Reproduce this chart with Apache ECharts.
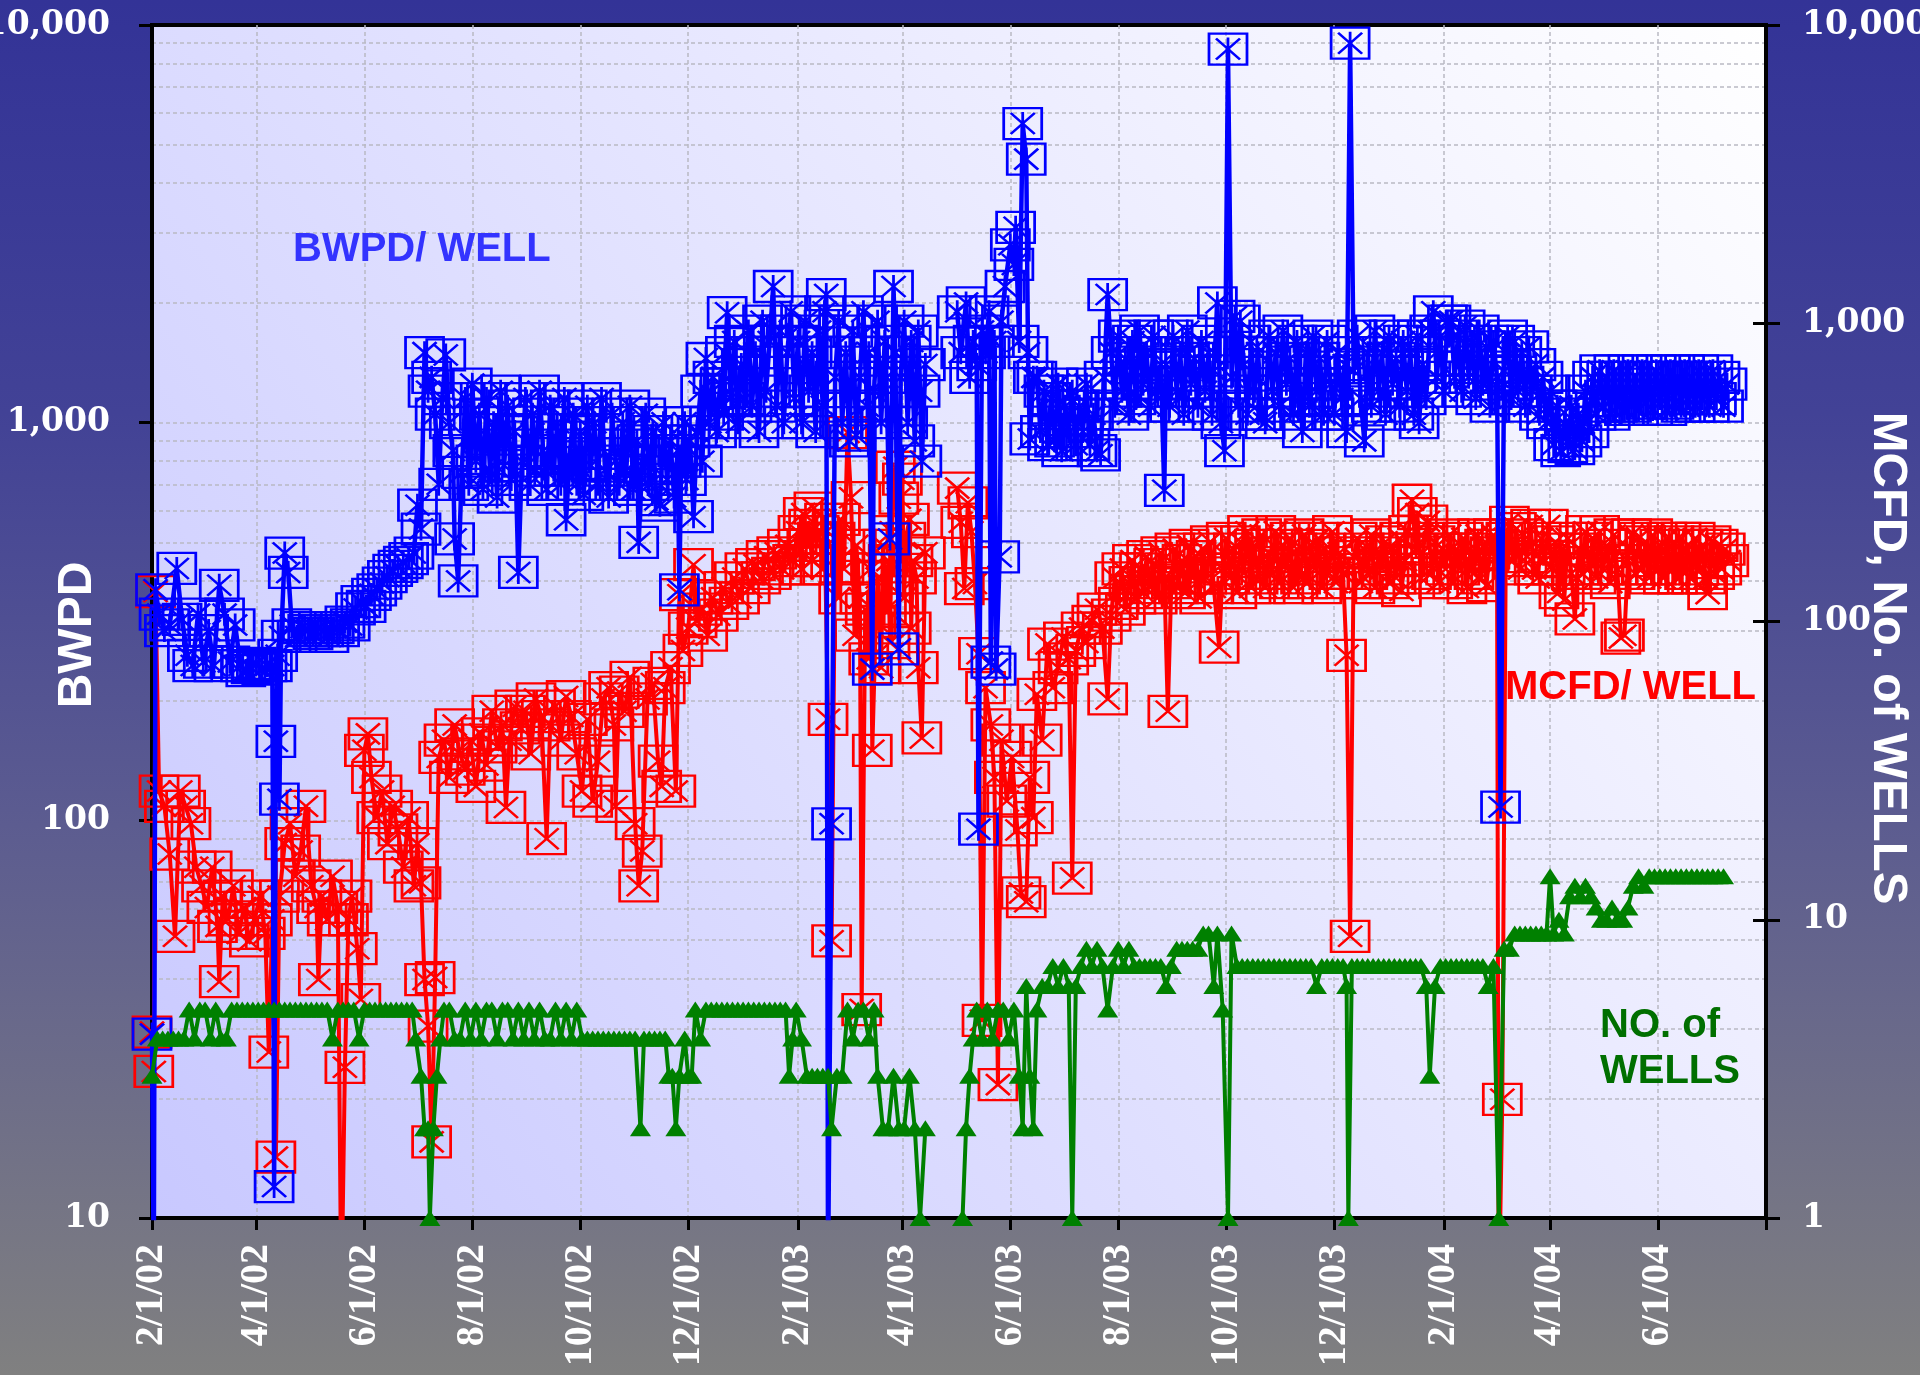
<!DOCTYPE html>
<html>
<head>
<meta charset="utf-8">
<script src="https://cdn.jsdelivr.net/npm/echarts@6/dist/echarts.min.js"></script>
<style>
  html, body { margin: 0; padding: 0; }
  #main { width: 1920px; height: 1375px; }
</style>
</head>
<body>
<div id="main"></div>
<script>
// x axis: days since 2/1/02, ticks every two months
var tickDays = [0, 59, 120, 181, 242, 303, 365, 424, 485, 546, 607, 668, 730, 790, 851, 912];
var tickLabels = ['2/1/02', '4/1/02', '6/1/02', '8/1/02', '10/1/02', '12/1/02', '2/1/03', '4/1/03',
  '6/1/03', '8/1/03', '10/1/03', '12/1/03', '2/1/04', '4/1/04', '6/1/04'];
var leftTicks = [10, 100, 1000, 10000];
var rightTicks = [1, 10, 100, 1000, 10000];
var gridVals = [20, 30, 40, 50, 60, 70, 80, 90, 100, 200, 300, 400, 500, 600, 700, 800, 900,
  1000, 2000, 3000, 4000, 5000, 6000, 7000, 8000, 9000];

// [day, BWPD per well]
var bwpd = [[0,29],[1,7],[2,380],[4,330],[7,300],[10,310],[14,430],[17,320],[20,260],[23,245],[26,330],[29,250],
  [32,300],[35,245],[38,390],[41,330],[44,250],[47,310],[50,245],[53,238],[56,242],[59,248],[62,240],[65,245],
  [68,245],[69,12],[70,158],[71,260],[72,113],[73,290],[75,470],[77,420],[79,310],[82,290],[85,305],[88,300],
  [91,295],[94,305],[97,300],[100,290],[103,305],[106,300],[109,315],[112,310],[115,340],[118,355],[121,345],
  [124,370],[127,380],[130,395],[133,410],[136,425],[139,435],[142,445],[145,455],[148,470],[150,620],[152,540],
  [154,1500],[156,1200],[158,1300],[160,1050],[162,700],[164,1150],[166,1480],[168,1000],[170,850],[171,510],
  [173,400],[175,750],[177,1150],[179,700],[181,1250],[183,800],[185,1050],[187,680],[189,1150],[191,760],
  [193,1000],[195,650],[197,1200],[199,780],[201,1100],[203,720],[205,950],[207,420],[209,800],[211,1150],
  [213,700],[215,1050],[217,760],[219,1200],[221,850],[223,680],[225,1100],[227,760],[229,1000],[231,700],
  [233,1150],[234,570],[236,820],[238,1050],[240,700],[242,950],[244,660],[246,1100],[248,780],[250,1000],
  [252,700],[254,1150],[256,760],[258,650],[260,1050],[262,800],[264,700],[266,1000],[268,760],[270,1100],
  [272,680],[274,900],[275,500],[277,800],[279,1050],[281,700],[283,950],[285,640],[287,620],[289,1000],
  [291,720],[293,900],[295,650],[297,850],[298,380],[299,800],[301,1000],[302,720],[304,900],[306,580],[308,950],
  [310,1200],[311,800],[313,1450],[315,1000],[317,1300],[319,950],[321,1250],[323,1050],[324,1500],[325,1890],
  [327,1150],[329,1600],[331,1000],[333,1400],[335,1150],[337,1700],[339,1100],[341,1500],[343,950],[345,1800],
  [347,1200],[349,1600],[351,2200],[353,1100],[355,1700],[357,1000],[359,1500],[361,1900],[363,1150],[365,1600],
  [367,1000],[369,1800],[371,1200],[373,1500],[375,950],[377,1700],[379,1100],[380,1900],[381,2100],[382,7],
  [384,98],[386,1300],[388,1800],[390,1000],[392,1500],[394,900],[396,1700],[398,930],[400,1300],[402,1900],
  [404,1100],[405,1500],[407,240],[408,1200],[410,1800],[412,1000],[414,1600],[415,1300],[417,510],[419,2200],
  [420,1500],[422,270],[423,1300],[425,1800],[427,1000],[429,1600],[431,900],[433,1700],[434,1200],[435,800],
  [437,1400],[446,null],
  [455,1900],[457,1500],[460,2000],[462,1300],[464,1600],[466,1400],[467,95],[469,1700],[471,1500],[473,1900],
  [474,250],[476,1600],[477,240],[479,460],[480,1800],[482,2200],[485,2800],[487,2500],[488,3100],[490,1600],
  [492,5650],[494,4600],[495,1500],[496,910],[498,1300],[500,1300],[502,950],[504,1200],[506,880],[508,1150],
  [510,900],[512,1250],[514,850],[516,1100],[518,950],[520,1200],[522,880],[524,1100],[526,950],[528,1250],
  [530,880],[532,1050],[534,850],[536,830],[538,1300],[540,2100],[542,1500],[544,1100],[546,1650],[548,1200],
  [550,1450],[552,1050],[554,1600],[556,1150],[558,1700],[560,1250],[562,1500],[564,1100],[566,1650],[568,1200],
  [570,1400],[572,676],[573,1400],[575,1100],[577,1650],[579,1200],[581,1500],[583,1050],[585,1700],[587,1250],
  [589,1450],[591,1100],[593,1600],[595,1200],[597,1500],[599,1050],[600,1350],[602,2000],[604,1000],[606,850],
  [608,8700],[610,1300],[612,1850],[614,1100],[615,1800],[617,1400],[619,1050],[621,1600],[623,1200],[625,1500],
  [627,1050],[629,1000],[631,1650],[633,1200],[635,1500],[637,1100],[639,1700],[641,1250],[643,1450],[645,1050],
  [647,1600],[649,1150],[650,950],[652,1500],[654,1100],[656,1650],[658,1200],[660,1450],[662,1050],[664,1600],
  [666,1250],[668,1050],[670,1500],[672,1150],[674,1400],[675,950],[677,9000],[679,1350],[681,1650],[683,1150],
  [685,900],[687,1500],[689,1100],[691,1700],[693,1200],[695,1500],[697,1050],[699,1650],[701,1250],[703,1450],
  [705,1100],[707,1600],[709,1200],[711,1500],[713,1050],[715,1650],[716,1000],[718,1400],[720,1150],[722,1700],
  [724,1900],[726,1300],[728,1650],[730,1200],[732,1800],[734,1800],[736,1300],[738,1650],[740,1200],[742,1750],
  [744,1300],[746,1600],[748,1150],[750,1700],[752,1250],[754,1550],[756,1100],[758,1600],[760,1300],[762,108],
  [764,1350],[766,1650],[768,1150],[770,1600],[772,1200],[774,1500],[776,1100],[778,1550],[780,1200],[782,1400],
  [784,1050],[786,1300],[788,1000],[790,1200],[792,880],[794,1100],[796,850],[798,1000],[800,870],[802,1100],
  [804,860],[806,1050],[808,900],[810,1200],[812,950],[814,1300],[816,1050],[818,1350],[820,1100],[822,1300],
  [824,1050],[826,1350],[828,1100],[830,1300],[832,1080],[834,1350],[836,1100],[838,1250],[840,1080],[842,1350],
  [844,1120],[846,1300],[848,1080],[850,1350],[852,1150],[854,1300],[856,1080],[858,1350],[860,1120],[862,1300],
  [864,1100],[866,1350],[868,1150],[870,1300],[872,1100],[874,1350],[876,1150],[878,1300],[880,1100],[882,1350],
  [884,1150],[886,1300],[888,1100],[890,1250]];

// [day, MCFD per well]
var mcfd = [[0,4.2],[1,3.1],[2,126],[4,27],[7,24],[10,16.6],[13,8.8],[16,27],[19,24],[22,21],[25,15],[28,13],
  [31,11],[34,15],[37,9.5],[38,6.2],[40,12],[43,10],[46,13],[49,9],[52,11],[55,8.5],[58,10],[61,12],[64,9],
  [66,3.6],[68,10],[70,1.6],[72,12],[75,18],[78,21],[81,14],[84,17],[87,24],[90,13],[93,11],[94,6.3],[96,12],
  [99,10],[102,14],[105,11],[107,0.5],[109,3.2],[111,10],[113,12],[116,8],[118,5.4],[120,37],[122,42],[124,30],
  [127,22],[130,27],[133,18],[136,24],[139,20],[142,15],[145,22],[148,13],[150,18],[152,13.3],[154,6.3],
  [156,4.4],[158,1.8],[160,6.4],[162,35],[165,40],[168,30],[171,45],[174,36],[177,32],[180,40],[183,28],[186,42],
  [189,33],[192,50],[195,38],[198,45],[200,23.8],[202,40],[205,52],[208,44],[211,50],[214,36],[217,55],[220,48],
  [223,18.7],[225,45],[228,52],[231,40],[234,56],[237,48],[240,36],[243,27],[246,47],[249,25],[252,34],[255,55],
  [258,60],[261,45],[262,24],[264,58],[267,50],[270,65],[273,21],[275,13],[277,17],[280,55],[283,62],[286,34],
  [288,28],[290,60],[293,70],[296,27],[298,123],[300,80],[303,95],[306,155],[308,100],[311,110],[314,90],
  [317,120],[320,105],[323,130],[326,115],[329,140],[332,120],[335,150],[338,130],[341,155],[344,140],[347,165],
  [350,145],[353,170],[356,150],[359,180],[362,160],[365,200],[367,150],[368,230],[370,180],[371,210],[373,160],
  [374,240],[376,190],[377,200],[379,150],[380,220],[382,47],[384,8.5],[386,190],[388,120],[389,220],[391,150],
  [393,430],[395,260],[397,90],[398,180],[400,120],[401,5],[403,110],[405,75],[406,150],[407,37],[409,100],
  [410,140],[412,70],[413,180],[415,110],[416,160],[417,85],[418,200],[420,329],[422,259],[424,300],[425,120],
  [426,190],[428,220],[429,95],[430,160],[432,140],[433,70],[435,40.7],[437,170],[446,null],
  [455,280],[457,215],[459,129],[461,250],[463,200],[465,134],[467,78],[469,4.6],[471,60],[474,45],[476,30],
  [478,2.8],[480,40],[483,25],[486,35],[489,20],[491,12.3],[494,11.5],[496,30],[498,22],[500,57],[503,40],
  [506,84],[509,60],[512,70],[515,88],[518,75],[520,13.8],[522,80],[525,95],[528,85],[531,100],[534,110],
  [537,95],[540,55],[542,105],[544,140],[546,115],[548,150],[550,110],[552,135],[554,160],[556,120],[558,150],
  [560,125],[562,165],[564,130],[566,155],[568,120],[570,170],[572,140],[574,50],[576,135],[578,175],[580,130],
  [582,160],[584,125],[586,180],[588,140],[590,165],[592,120],[594,175],[596,140],[598,185],[600,130],[603,82],
  [605,150],[607,190],[609,140],[611,175],[613,125],[615,185],[617,145],[619,200],[621,130],[623,180],[625,140],
  [627,195],[629,130],[631,170],[633,145],[635,200],[637,135],[639,180],[641,150],[643,190],[645,130],[647,175],
  [649,140],[651,195],[653,135],[655,180],[657,150],[659,190],[661,130],[663,175],[665,145],[667,200],[669,135],
  [671,170],[673,145],[675,77],[677,8.8],[679,165],[681,190],[683,135],[685,175],[687,145],[689,195],[691,130],
  [693,170],[695,150],[697,185],[699,135],[701,175],[703,140],[705,190],[706,127],[708,160],[710,200],[712,255],
  [714,175],[715,230],[717,140],[719,190],[721,217],[723,145],[725,185],[727,135],[729,175],[731,150],[733,195],
  [735,135],[737,175],[739,150],[741,190],[743,130],[745,175],[747,145],[749,195],[751,140],[753,180],[754,132],
  [756,170],[758,195],[760,180],[761,0.5],[763,2.5],[765,190],[767,215],[769,160],[771,205],[773,150],[775,195],
  [777,165],[779,210],[781,150],[783,140],[785,190],[787,160],[789,210],[791,150],[793,185],[795,125],[797,175],
  [798,118],[800,190],[802,145],[804,102],[806,175],[808,145],[810,200],[812,150],[814,190],[816,140],[818,200],
  [820,150],[822,180],[824,135],[826,195],[828,150],[830,88],[832,90],[834,160],[836,195],[838,145],[840,190],
  [842,150],[844,185],[846,140],[848,195],[850,150],[852,180],[854,140],[856,190],[858,150],[860,185],[862,140],
  [864,190],[866,145],[868,180],[870,140],[872,190],[874,150],[876,180],[878,140],[879,124],[881,185],[883,145],
  [885,180],[887,150],[889,175],[891,160]];

// [day, number of wells]
var wells = [[0,3],[3,4],[6,4],[9,4],[12,4],[15,4],[18,4],[21,5],[24,4],[27,5],[30,5],[33,4],[36,5],[39,4],[42,4],
  [45,5],[48,5],[51,5],[54,5],[57,5],[60,5],[63,5],[66,5],[69,5],[72,5],[75,5],[78,5],[81,5],[84,5],[87,5],[90,5],
  [93,5],[96,5],[99,5],[102,4],[105,5],[108,5],[111,5],[114,5],[117,4],[120,5],[123,5],[126,5],[129,5],[132,5],
  [135,5],[138,5],[141,5],[144,5],[147,5],[149,4],[152,3],[154,2],[156,2],[157,1],[159,2],[161,3],[163,4],[165,5],
  [168,5],[171,4],[174,4],[177,5],[180,4],[183,5],[186,4],[189,5],[192,5],[195,4],[198,5],[201,5],[204,4],[207,5],
  [210,4],[213,5],[216,4],[219,5],[222,4],[225,4],[228,5],[231,4],[234,5],[237,4],[240,5],[243,4],[246,4],[249,4],
  [252,4],[255,4],[258,4],[261,4],[264,4],[267,4],[270,4],[273,4],[276,2],[278,4],[281,4],[284,4],[287,4],[290,4],
  [292,3],[294,3],[296,2],[298,3],[301,4],[303,3],[305,3],[307,5],[310,4],[313,5],[316,5],[319,5],[322,5],[325,5],
  [328,5],[331,5],[334,5],[337,5],[340,5],[343,5],[346,5],[349,5],[352,5],[355,5],[358,5],[360,3],[362,4],[364,5],
  [367,4],[370,3],[373,3],[376,3],[379,3],[382,3],[384,2],[387,3],[390,3],[393,5],[396,4],[399,5],[402,5],[405,4],
  [408,5],[410,3],[413,2],[416,2],[419,3],[422,2],[425,2],[428,3],[431,2],[434,1],[437,2],[446,null],
  [458,1],[460,2],[462,3],[464,4],[466,5],[469,4],[472,5],[475,4],[478,5],[481,5],[484,4],[487,5],[490,3],[492,2],
  [494,6],[496,3],[498,2],[500,5],[503,6],[506,6],[509,7],[512,6],[515,7],[518,6],[520,1],[522,6],[525,7],[528,8],
  [531,7],[534,8],[537,7],[540,5],[543,7],[546,8],[549,7],[552,8],[555,7],[558,7],[561,7],[564,7],[567,7],[570,7],
  [573,6],[576,7],[579,8],[582,8],[585,8],[588,8],[591,8],[594,9],[597,9],[600,6],[602,9],[605,5],[608,1],[610,9],
  [613,7],[616,7],[619,7],[622,7],[625,7],[628,7],[631,7],[634,7],[637,7],[640,7],[643,7],[646,7],[649,7],[652,7],
  [655,7],[658,6],[661,7],[664,7],[667,7],[670,7],[673,7],[675,6],[676,1],[678,7],[681,7],[684,7],[687,7],[690,7],
  [693,7],[696,7],[699,7],[702,7],[705,7],[708,7],[711,7],[714,7],[717,7],[720,6],[722,3],[725,6],[728,7],[731,7],
  [734,7],[737,7],[740,7],[743,7],[746,7],[749,7],[752,7],[755,6],[758,7],[761,1],[764,8],[767,8],[770,9],[773,9],
  [776,9],[779,9],[782,9],[785,9],[788,9],[790,14],[792,9],[795,10],[798,9],[801,12],[804,13],[807,12],[810,13],
  [813,12],[816,11],[819,10],[822,10],[825,11],[828,10],[831,10],[834,11],[837,13],[840,14],[843,13],[846,14],
  [849,14],[852,14],[855,14],[858,14],[861,14],[864,14],[867,14],[870,14],[873,14],[876,14],[879,14],[882,14],
  [885,14],[888,14]];

// 方框+星号 / 方框+叉号 markers
var BOX_STAR = 'path://M0,0L38,0L38,31L0,31Z M7,5L31,26 M31,5L7,26 M19,4L19,27';
var BOX_X = 'path://M0,0L38,0L38,31L0,31Z M7,5L31,26 M31,5L7,26';

var GRID_LINE = { color: '#b9b9c4', width: 1.5, type: [4, 3] };
var TICK_FONT = 'DejaVu Serif';

function commas(v) {
  return String(v).replace(/\B(?=(\d{3})+(?!\d))/g, ',');
}

var myChart = echarts.init(document.getElementById('main'), null, { renderer: 'canvas' });

myChart.setOption({
  animation: false,
  backgroundColor: {
    type: 'linear', x: 0, y: 0, x2: 0, y2: 1,
    colorStops: [
      { offset: 0, color: '#333397' },
      { offset: 0.3, color: '#424296' },
      { offset: 0.6, color: '#5c5c90' },
      { offset: 1, color: '#808080' }
    ]
  },
  grid: {
    left: 152, right: 154, top: 25, bottom: 157,
    outerBoundsMode: 'none',
    containLabel: false,
    show: true,
    borderColor: '#000',
    borderWidth: 4,
    backgroundColor: {
      type: 'linear', x: 0, y: 1, x2: 1, y2: 0,
      colorStops: [
        { offset: 0, color: '#c8c8ff' },
        { offset: 1, color: '#ffffff' }
      ]
    }
  },
  xAxis: {
    type: 'value',
    min: 0,
    max: 912,
    axisLine: { lineStyle: { color: '#000', width: 4 } },
    axisTick: { customValues: tickDays, length: 12, lineStyle: { color: '#000', width: 3 } },
    axisLabel: {
      customValues: tickDays.slice(0, tickLabels.length),
      rotate: 90,
      margin: 26,
      color: '#fff',
      fontFamily: 'Liberation Serif',
      fontWeight: 'bold',
      fontSize: 40,
      formatter: function (v) {
        var i = tickDays.indexOf(v);
        return i >= 0 && i < tickLabels.length ? tickLabels[i] : '';
      }
    },
    splitLine: { show: true, lineStyle: GRID_LINE }
  },
  yAxis: [
    {
      type: 'log',
      min: 10,
      max: 10000,
      position: 'left',
      axisLine: { show: true, lineStyle: { color: '#000', width: 4 } },
      axisTick: { show: true, customValues: leftTicks, length: 13, lineStyle: { color: '#000', width: 3 } },
      axisLabel: {
        customValues: leftTicks,
        margin: 42,
        color: '#fff',
        fontFamily: TICK_FONT,
        fontWeight: 'bold',
        fontSize: 33,
        formatter: commas
      },
      splitLine: { show: false }
    },
    {
      type: 'log',
      min: 1,
      max: 10000,
      position: 'right',
      axisLine: { show: true, lineStyle: { color: '#000', width: 4 } },
      axisTick: { show: true, customValues: rightTicks, length: 14, lineStyle: { color: '#000', width: 3 } },
      axisLabel: {
        customValues: rightTicks,
        margin: 36,
        color: '#fff',
        fontFamily: TICK_FONT,
        fontWeight: 'bold',
        fontSize: 33,
        formatter: commas
      },
      splitLine: { show: false }
    },
    {
      // 只用于画左轴的对数网格线
      type: 'log',
      min: 10,
      max: 10000,
      position: 'left',
      axisLine: { show: false },
      axisTick: { show: false, customValues: gridVals },
      axisLabel: { show: false },
      splitLine: { show: true, lineStyle: GRID_LINE }
    },
    {
      // 右轴刻度穿过轴线：补上内侧的一半
      type: 'log',
      min: 1,
      max: 10000,
      position: 'right',
      axisLine: { show: false },
      axisTick: { show: true, inside: true, customValues: [1, 10, 100, 1000], length: 13, lineStyle: { color: '#000', width: 3 } },
      axisLabel: { show: false },
      splitLine: { show: false }
    }
  ],
  graphic: [
    {
      type: 'text', x: 78, y: 635, rotation: Math.PI / 2,
      style: { text: 'BWPD', fill: '#fff', font: 'bold 48px "Liberation Sans", Arial', align: 'center', verticalAlign: 'middle' }
    },
    {
      type: 'text', x: 1888, y: 658, rotation: -Math.PI / 2,
      style: { text: 'MCFD, No. of WELLS', fill: '#fff', font: 'bold 49px "Liberation Sans", Arial', align: 'center', verticalAlign: 'middle' }
    },
    {
      type: 'text', x: 293, y: 250, z: 10,
      style: { text: 'BWPD/ WELL', fill: '#3333ff', font: 'bold 40px "Liberation Sans", Arial', align: 'left', verticalAlign: 'middle' }
    },
    {
      type: 'text', x: 1505, y: 688, z: 10,
      style: { text: 'MCFD/ WELL', fill: '#ff0000', font: 'bold 40px "Liberation Sans", Arial', align: 'left', verticalAlign: 'middle' }
    },
    {
      type: 'text', x: 1600, y: 1049, z: 10,
      style: { text: 'NO. of\nWELLS', fill: '#006f00', font: 'bold 40px "Liberation Sans", Arial', lineHeight: 46, align: 'left', verticalAlign: 'middle' }
    }
  ],
  series: [
    {
      name: 'MCFD/ WELL',
      type: 'line',
      yAxisIndex: 1,
      data: mcfd,
      clip: true,
      z: 3,
      symbol: BOX_X,
      symbolSize: [38, 31],
      itemStyle: { color: 'rgba(0,0,0,0)', borderColor: '#ff0000', borderWidth: 2.5 },
      lineStyle: { color: '#ff0000', width: 4 }
    },
    {
      name: 'BWPD/ WELL',
      type: 'line',
      yAxisIndex: 0,
      data: bwpd,
      clip: true,
      z: 4,
      symbol: BOX_STAR,
      symbolSize: [38, 31],
      itemStyle: { color: 'rgba(0,0,0,0)', borderColor: '#0000ff', borderWidth: 2.5 },
      lineStyle: { color: '#0000ff', width: 4.5 }
    },
    {
      name: 'NO. of WELLS',
      type: 'line',
      yAxisIndex: 1,
      data: wells,
      clip: true,
      z: 5,
      symbol: 'triangle',
      symbolSize: [21, 16],
      itemStyle: { color: '#008000' },
      lineStyle: { color: '#008000', width: 4 }
    }
  ]
});

window.onresize = myChart.resize;
</script>
</body>
</html>
